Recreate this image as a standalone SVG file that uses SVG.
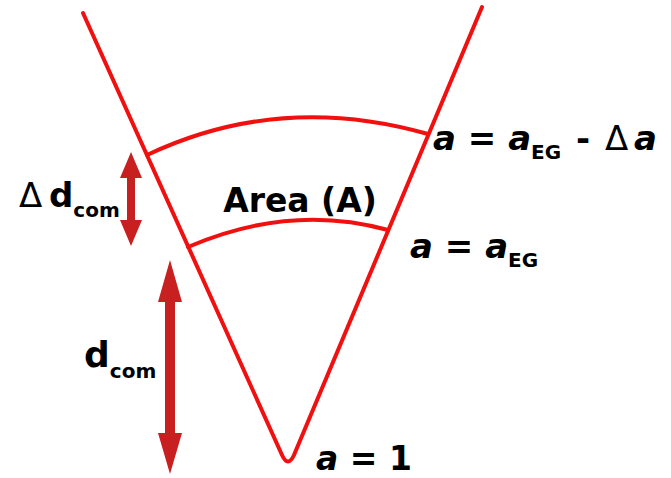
<svg xmlns="http://www.w3.org/2000/svg" width="671" height="478" viewBox="0 0 671 478">
<style>
.ln{fill:none;stroke:#f01010;stroke-width:4;stroke-linecap:round;stroke-linejoin:round}
.ar{fill:#c82020}
.t{font-family:"DejaVu Sans",sans-serif;font-weight:bold;fill:#000}
.i{font-style:italic}
</style>
<rect width="671" height="478" fill="#fff"/>
<g id="connectors">
<path class="ln" d="M83,13 L282,455 Q288,468 294,455 L482,7"/>
<path class="ln" d="M147,155 Q280,92 428,134"/>
<path class="ln" d="M188,247 Q290,203 388,230"/>
</g>
<g id="arrow-ddcom">
<polygon class="ar" points="131,152 142,178 135,178 135,220 142,220 131,246 120,220 127,220 127,178 120,178"/>
</g>
<g id="arrow-dcom">
<polygon class="ar" points="170,260 182,302 175,302 175,433 182,433 170,474 158,433 165,433 165,302 158,302"/>
</g>
<g id="label-ddcom">
<text class="t" x="19" y="207" font-size="34"><tspan font-weight="normal">Δ</tspan><tspan x="49">d</tspan><tspan font-size="20" dy="10">com</tspan></text>
</g>
<g id="label-area">
<text class="t" x="300" y="212" font-size="33" text-anchor="middle">Area (A)</text>
</g>
<g id="label-top">
<text class="t" x="433" y="150" font-size="34"><tspan class="i">a</tspan> = <tspan class="i">a</tspan><tspan font-size="20" dy="9">EG</tspan><tspan dy="-9" x="576">-</tspan><tspan x="605" font-weight="normal">Δ</tspan><tspan x="634" class="i">a</tspan></text>
</g>
<g id="label-mid">
<text class="t" x="410" y="258" font-size="34"><tspan class="i">a</tspan> = <tspan class="i">a</tspan><tspan font-size="20" dy="9">EG</tspan></text>
</g>
<g id="label-dcom">
<text class="t" x="84" y="367" font-size="36">d<tspan font-size="20" dy="11">com</tspan></text>
</g>
<g id="label-one">
<text class="t" x="316" y="470" font-size="33"><tspan class="i">a</tspan> = 1</text>
</g>
</svg>
